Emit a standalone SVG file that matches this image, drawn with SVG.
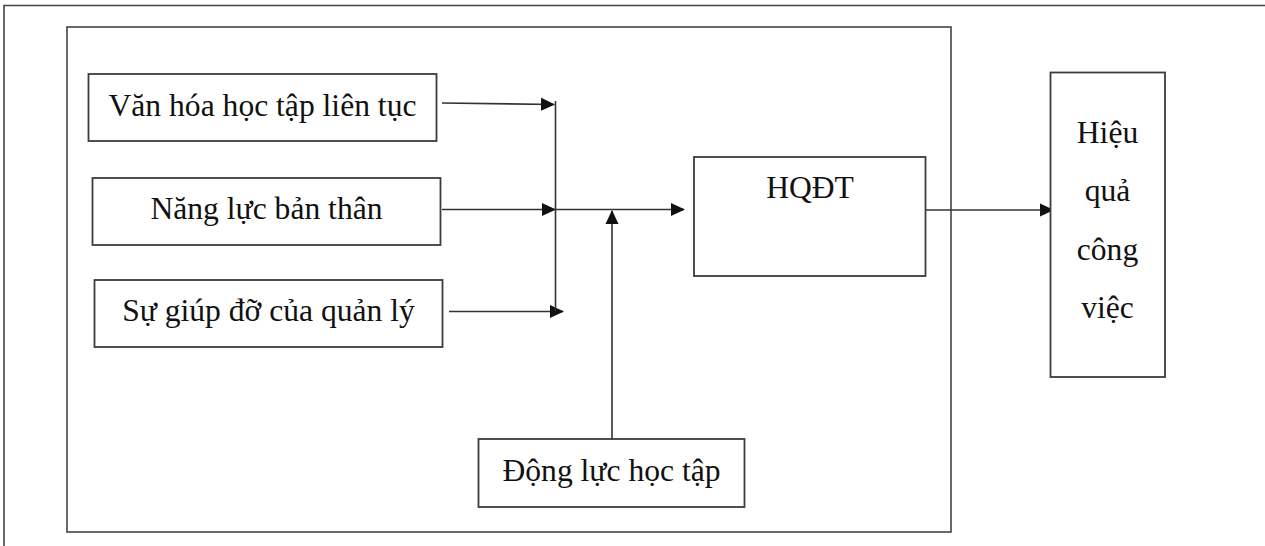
<svg xmlns="http://www.w3.org/2000/svg" width="1265" height="546" viewBox="0 0 1265 546">
  <style>
    .frame { fill: none; stroke: #444; stroke-width: 1.6; }
    .box { fill: #fff; stroke: #3c3c3c; stroke-width: 1.8; }
    .wire { fill: none; stroke: #333; stroke-width: 1.6; }
    .label { font-family: "Liberation Serif", "Times New Roman", serif; font-size: 31.6px; fill: #111; text-anchor: middle; }
  </style>
  <defs>
    <marker id="arrow" viewBox="0 0 14 14" refX="13" refY="7" markerWidth="14" markerHeight="14" markerUnits="userSpaceOnUse" orient="auto">
      <path d="M0,0.5 L14,7 L0,13.5 Z" fill="#111"/>
    </marker>
  </defs>

  <rect width="1265" height="546" fill="#fff"/>

  <!-- page frame: top and left edges -->
  <path class="frame" d="M4,546 V5.5 H1265"/>

  <!-- enclosing panel -->
  <rect id="panel" class="frame" x="67" y="27" width="884" height="505"/>

  <!-- connectors -->
  <g id="connectors">
    <line class="wire" x1="442" y1="103" x2="554" y2="104.5" marker-end="url(#arrow)"/>
    <line class="wire" x1="442" y1="209.5" x2="555" y2="209.5" marker-end="url(#arrow)"/>
    <line class="wire" x1="449" y1="311.5" x2="563" y2="311.5" marker-end="url(#arrow)"/>
    <line class="wire" x1="555.5" y1="101" x2="555.5" y2="311"/>
    <line class="wire" x1="555" y1="209.5" x2="684" y2="209.5" marker-end="url(#arrow)"/>
    <line class="wire" x1="612" y1="439" x2="612" y2="211" marker-end="url(#arrow)"/>
    <line class="wire" x1="926" y1="210" x2="1053" y2="210" marker-end="url(#arrow)"/>
  </g>

  <g id="node-van-hoa">
    <rect class="box" x="88.5" y="74" width="348" height="67"/>
    <text class="label" x="262.5" y="116">Văn hóa học tập liên tục</text>
  </g>

  <g id="node-nang-luc">
    <rect class="box" x="92.5" y="178" width="348" height="67"/>
    <text class="label" x="266.5" y="219">Năng lực bản thân</text>
  </g>

  <g id="node-su-giup-do">
    <rect class="box" x="94.5" y="280" width="348" height="67"/>
    <text class="label" x="268.5" y="321">Sự giúp đỡ của quản lý</text>
  </g>

  <g id="node-hqdt">
    <rect class="box" x="694" y="157" width="231.5" height="119"/>
    <text class="label" x="810" y="198">HQĐT</text>
  </g>

  <g id="node-dong-luc">
    <rect class="box" x="478.5" y="439" width="266" height="68"/>
    <text class="label" x="611.5" y="481">Động lực học tập</text>
  </g>

  <g id="node-hieu-qua">
    <rect class="box" x="1050.5" y="72.5" width="114.5" height="304.5"/>
    <text class="label" x="1107.5" y="143">Hiệu</text>
    <text class="label" x="1107.5" y="201">quả</text>
    <text class="label" x="1107.5" y="260">công</text>
    <text class="label" x="1107.5" y="318">việc</text>
  </g>
</svg>
